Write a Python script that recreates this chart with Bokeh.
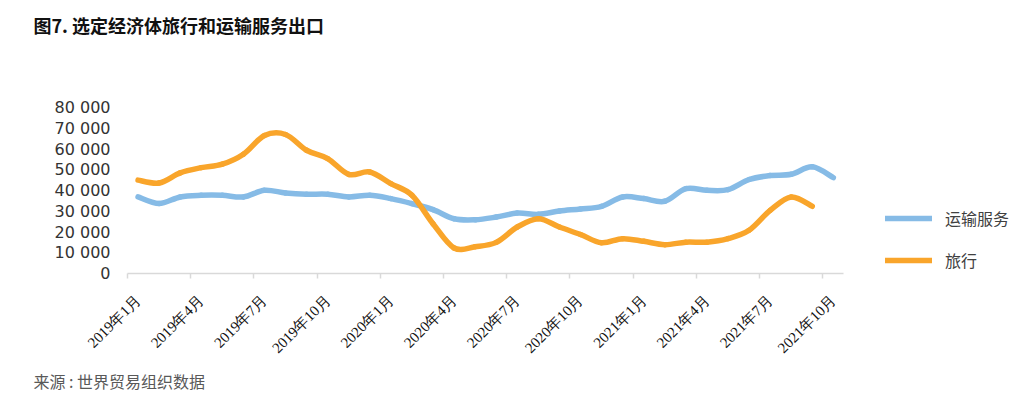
import numpy as np
from bokeh.plotting import figure
from bokeh.models import (Range1d, FixedTicker, Legend, LegendItem, Title)
from bokeh.embed import file_html
from bokeh.resources import INLINE

# ---------------- data ----------------
months = [f"{y}年{m}月" for y in (2019, 2020, 2021) for m in range(1, 13)][:34]
transport = [36900, 33700, 36900, 37700, 37700, 36900, 40100, 38800, 38200, 38200,
             36900, 37700, 36100, 33700, 30800, 26400, 25900, 27200, 29100, 28500,
             30100, 31100, 32400, 36900, 36100, 34800, 40900, 40100, 40400, 45300,
             47200, 47800, 51400, 46200]
travel = [45000, 43600, 48500, 51000, 52700, 57500, 66500, 67000, 59400, 55400,
          47800, 48900, 43300, 37700, 24000, 12300, 12900, 15000, 22400, 26400,
          22400, 18800, 14800, 16800, 15500, 13900, 15100, 15100, 16800, 20800,
          30400, 36900, 32400]
series_names = ["运输服务", "旅行"]
y_ticks = [0, 10000, 20000, 30000, 40000, 50000, 60000, 70000, 80000]
y_tick_labels = ["0", "10 000", "20 000", "30 000", "40 000", "50 000", "60 000", "70 000", "80 000"]
title_text = "图7. 选定经济体旅行和运输服务出口"
source_text = "来源 : 世界贸易组织数据"

BLUE = "#86BBE6"
ORANGE = "#F9A52B"


def smooth(xs, ys):
    """Bezier segments through the data points (Excel-style smoothed line)."""
    xs = np.asarray(xs, float)
    ys = np.asarray(ys, float)
    n = len(xs)
    xp = np.concatenate([[xs[0]], xs, [xs[-1]]])
    yp = np.concatenate([[ys[0]], ys, [ys[-1]]])
    cx0 = xp[1:n] + (xp[2:n + 1] - xp[0:n - 1]) / 6
    cy0 = yp[1:n] + (yp[2:n + 1] - yp[0:n - 1]) / 6
    cx1 = xp[2:n + 1] - (xp[3:n + 2] - xp[1:n]) / 6
    cy1 = yp[2:n + 1] - (yp[3:n + 2] - yp[1:n]) / 6
    return dict(x0=xs[:-1], y0=ys[:-1], x1=xs[1:], y1=ys[1:],
                cx0=cx0, cy0=cy0, cx1=cx1, cy1=cy1)


W, H = 1033, 394
LEFT, RIGHT, TOP, BOTTOM = 127, 5, 107, 121
CAT_PX = 21.07                      # pixel width of one month on the axis
frame_w = W - LEFT - RIGHT
x_end = -0.5 + frame_w / CAT_PX     # frame extends to hold the legend

p = figure(width=W, height=H, output_backend="svg", toolbar_location=None,
           x_range=Range1d(-0.5, x_end), y_range=Range1d(0, 80000),
           min_border_left=LEFT, min_border_right=RIGHT, min_border_top=TOP,
           min_border_bottom=BOTTOM)
p.outline_line_color = None
p.grid.visible = False
p.background_fill_color = "white"
p.border_fill_color = "white"

rb = p.bezier(**smooth(np.arange(len(transport)), transport), line_color=BLUE,
              line_width=5.5, line_cap="round")
ro = p.bezier(**smooth(np.arange(len(travel)), travel), line_color=ORANGE,
              line_width=5.5, line_cap="round")

# x axis
label_pos = list(range(0, len(months), 3))
xa = p.xaxis[0]
xa.bounds = (-0.5, len(months) - 0.5)
xa.ticker = FixedTicker(ticks=label_pos, minor_ticks=[i - 0.5 for i in label_pos])
xa.major_label_overrides = {i: months[i] for i in label_pos}
xa.major_tick_in = 0
xa.major_tick_out = 0
xa.minor_tick_in = 0
xa.minor_tick_out = 5
xa.minor_tick_line_color = "#D9D9D9"
xa.minor_tick_line_width = 1.5
xa.axis_line_color = "#D9D9D9"
xa.axis_line_width = 1.5
xa.major_label_orientation = np.pi / 4
xa.major_label_text_font = "Liberation Serif"
xa.major_label_text_font_size = "15px"
xa.major_label_text_color = "#111111"
xa.major_label_standoff = 19

# y axis
ya = p.yaxis[0]
ya.ticker = FixedTicker(ticks=y_ticks)
ya.major_label_overrides = {v: s for v, s in zip(y_ticks, y_tick_labels)}
ya.axis_line_color = None
ya.major_tick_line_color = None
ya.minor_tick_line_color = None
ya.major_label_text_font = "DejaVu Sans"
ya.major_label_text_font_size = "16px"
ya.major_label_text_color = "#333333"
ya.major_label_standoff = 11

# legend
legend = Legend(items=[LegendItem(label=series_names[0], renderers=[rb]),
                       LegendItem(label=series_names[1], renderers=[ro])],
                location=(758, 1), padding=0, margin=0, spacing=18,
                glyph_width=47, glyph_height=20, label_standoff=13,
                label_text_font="Noto Sans CJK SC", label_text_font_size="16px",
                label_text_color="#404040", border_line_color=None,
                background_fill_alpha=0)
p.add_layout(legend, "center")

# visible title (built-in, outermost) and a blank spacer nearer the frame
p.title.text = title_text
p.title.align = "left"
p.title.offset = -94
p.title.standoff = 10
p.title.text_font = "Noto Sans CJK SC"
p.title.text_font_style = "bold"
p.title.text_font_size = "18px"
p.title.text_color = "#111111"

spacer = Title(text=" ", text_font_size="18px", standoff=43)
p.add_layout(spacer, "above")

src = Title(text=source_text, align="left", offset=-94, text_font="Noto Sans CJK SC",
            text_font_style="normal", text_font_size="16px", text_color="#595959",
            standoff=4)
p.add_layout(src, "below")

open("out.html", "w").write(file_html(p, INLINE))
